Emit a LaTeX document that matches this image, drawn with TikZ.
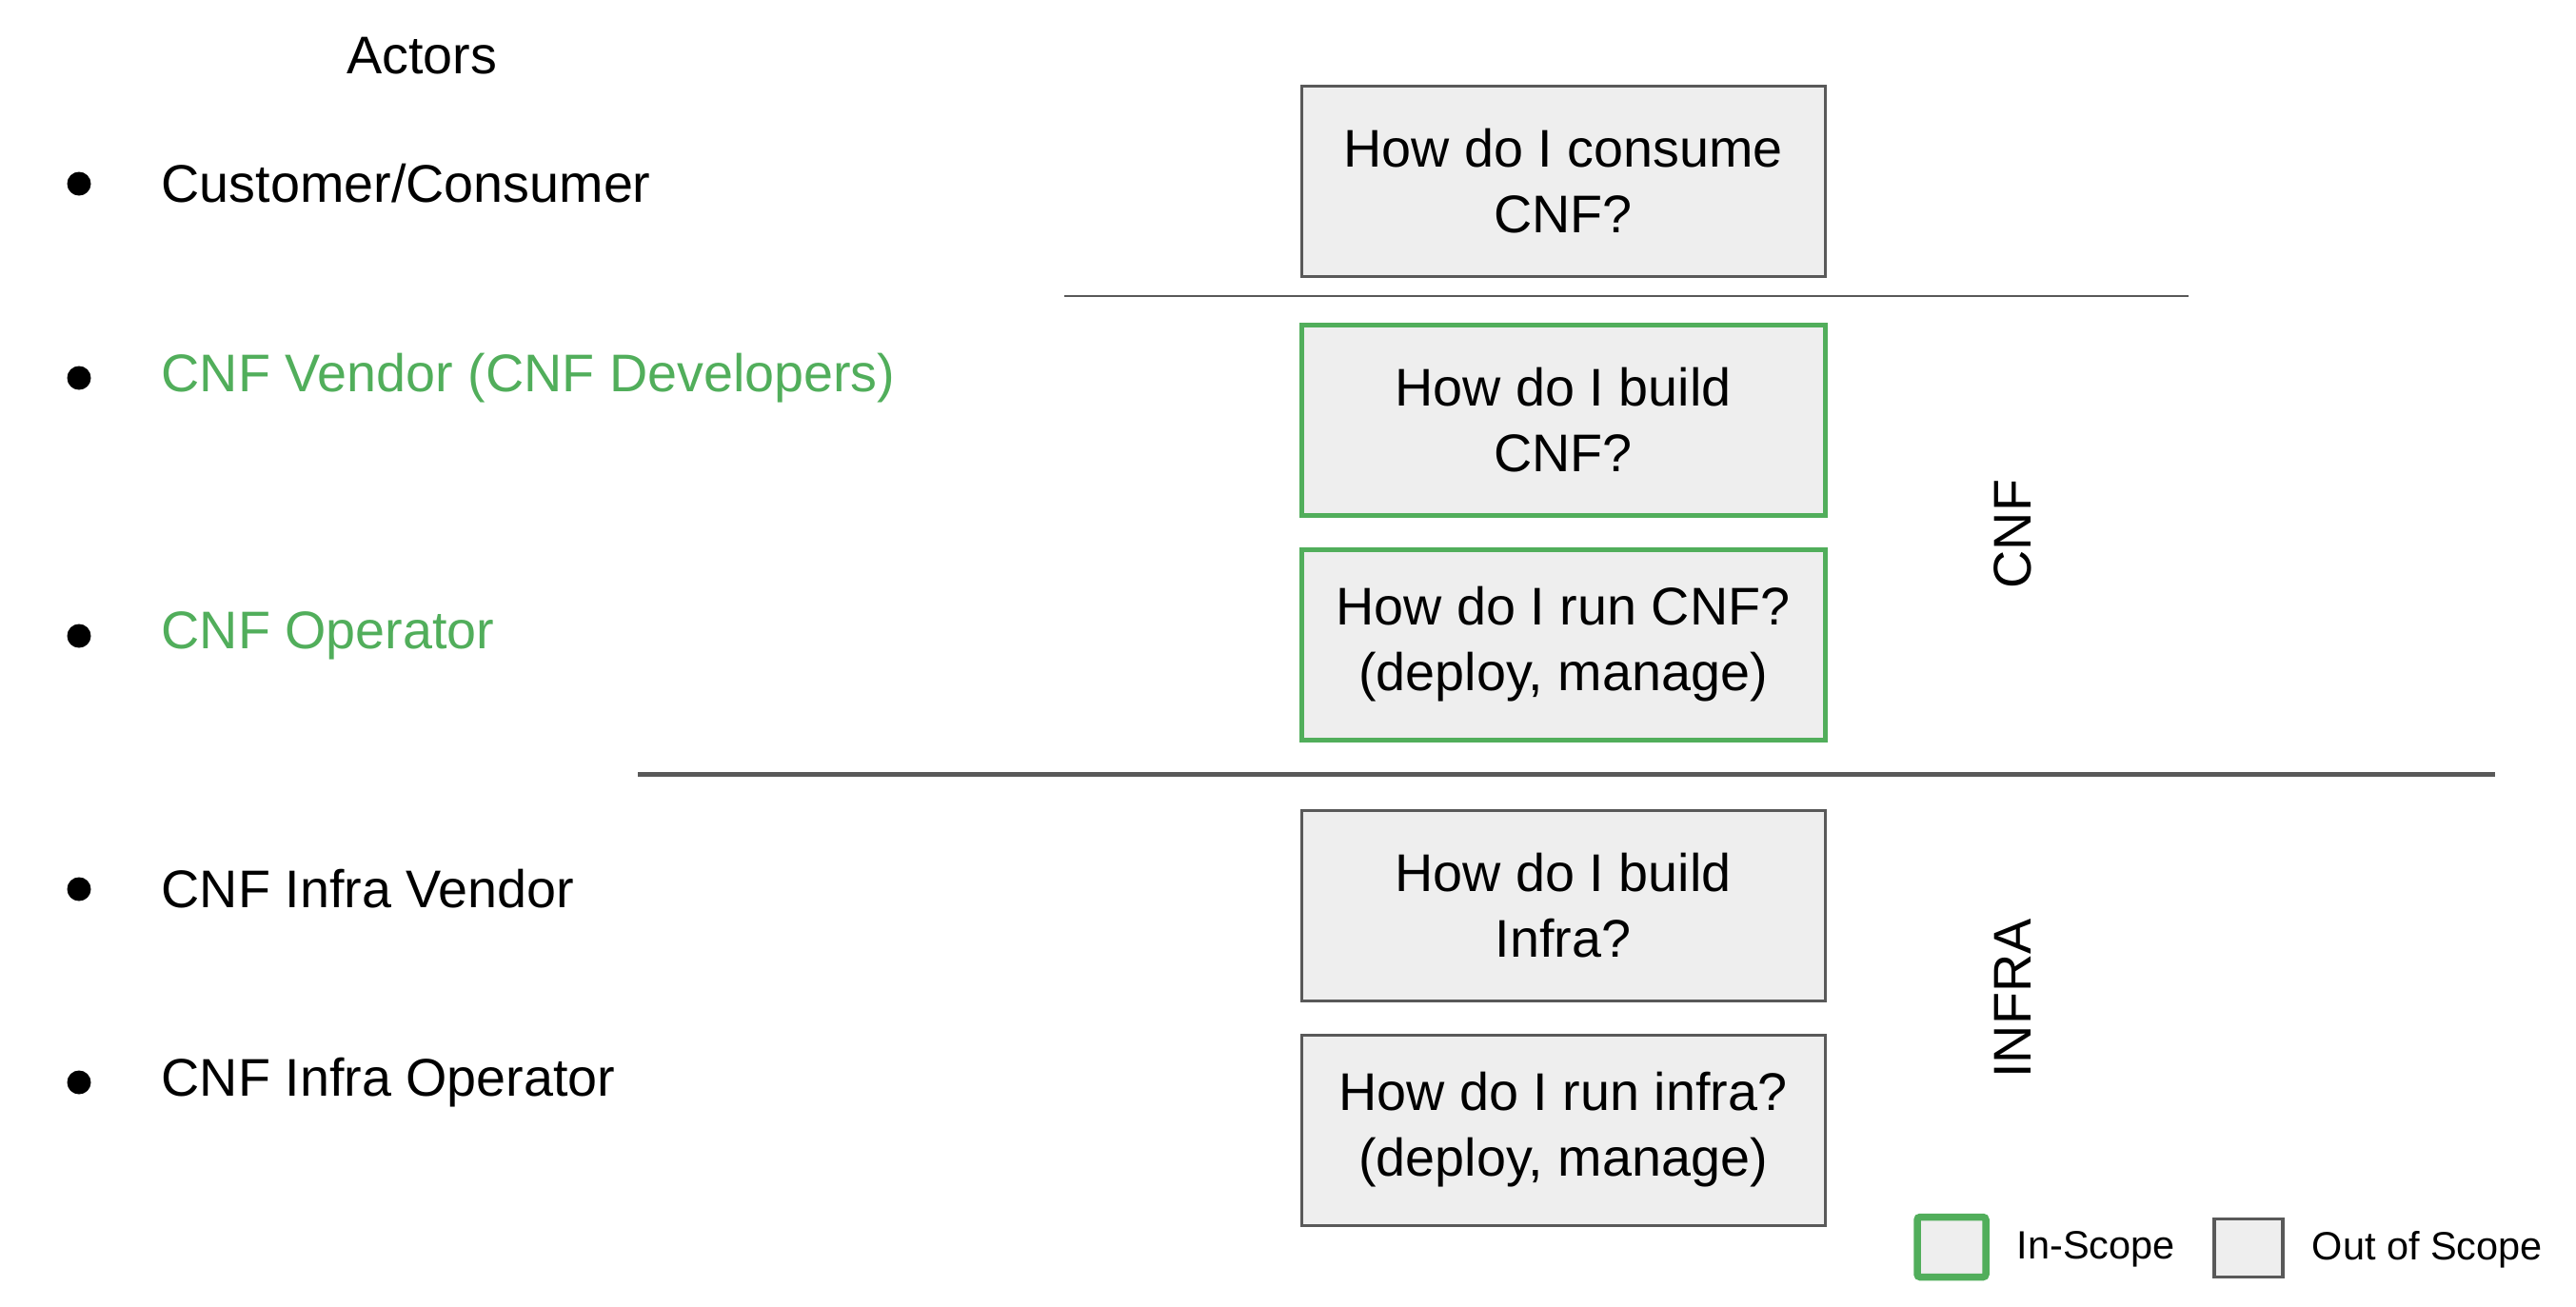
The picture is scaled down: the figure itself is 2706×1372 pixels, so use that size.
\documentclass[tikz,border=0pt]{standalone}
\usepackage{fontspec}
\setmainfont{Liberation Sans}
\definecolor{scopegreen}{RGB}{81,174,91}
\definecolor{boxgray}{RGB}{89,89,89}
\definecolor{boxfill}{RGB}{238,238,238}
\begin{document}
\begin{tikzpicture}[x=0.1mm, y=-0.1mm,
    every node/.style={font=\fontsize{15.85}{19.6}\selectfont},
    question/.style={draw=boxgray, line width=0.3mm, fill=boxfill, align=center,
      minimum width=55mm, minimum height=20mm, inner sep=0pt},
    inscope/.style={question, draw=scopegreen, line width=0.5mm},
    actor/.style={anchor=west, inner sep=0pt},
    dot/.style={circle, fill=black, minimum size=2.5mm, inner sep=0pt},
    legend/.style={anchor=west, inner sep=0pt, font=\fontsize{11.8}{14}\selectfont}]
  \useasboundingbox (0,0) rectangle (2706,1372);

  \node (actors) at (443, 59) {Actors};
  \foreach \name/\y/\col/\txt in {consumer/193/black/Customer\slash Consumer,
      vendor/397/scopegreen/CNF Vendor (CNF Developers),
      operator/668/scopegreen/CNF Operator,
      infravendor/934/black/CNF Infra Vendor,
      infraoperator/1137/black/CNF Infra Operator} {
    \node[dot] (dot-\name) at (83, \y) {};
    \node[actor, text=\col] (\name) at (169, \y) {\txt};
  }

  \node[question] (consume) at (1642, 190) {How do I consume\\CNF?};
  \node[inscope] (buildcnf) at (1642, 441) {How do I build\\CNF?};
  \node[inscope] (runcnf) at (1642, 677) {How do I run CNF?\\(deploy, manage)};
  \node[question] (buildinfra) at (1642, 951) {How do I build\\Infra?};
  \node[question] (runinfra) at (1642, 1187) {How do I run infra?\\(deploy, manage)};

  \draw[boxgray, line width=0.28mm] (1118, 311) -- (2299, 311);
  \draw[boxgray, line width=0.5mm] (670, 813) -- (2621, 813);

  \node[rotate=90] (cnf) at (2114, 561) {CNF};
  \node[rotate=90] (infra) at (2114, 1049) {INFRA};

  \node[draw=scopegreen, line width=0.75mm, fill=boxfill, rounded corners=0.3mm,
    minimum width=7.2mm, minimum height=6.3mm, inner sep=0pt] (key-in) at (2050, 1310) {};
  \node[legend] (key-in-label) at (2118, 1312) {In-Scope};
  \node[draw=boxgray, line width=0.35mm, fill=boxfill,
    minimum width=7.2mm, minimum height=6.1mm, inner sep=0pt] (key-out) at (2362, 1311) {};
  \node[legend] (key-out-label) at (2428, 1313) {Out of Scope};
\end{tikzpicture}
\end{document}
